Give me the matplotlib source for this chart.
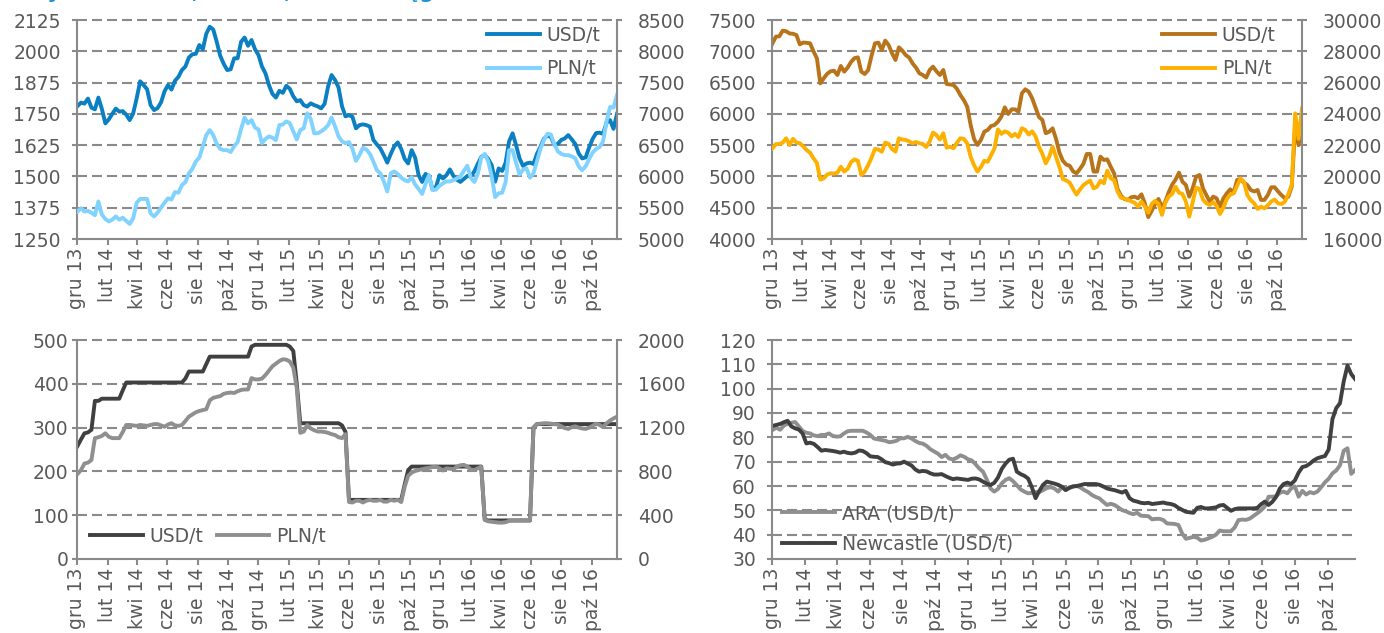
import matplotlib
matplotlib.use("Agg")
import matplotlib.pyplot as plt
import matplotlib.dates as mdates
import pandas as pd

plt.rcParams["font.family"] = ["DejaVu Sans"]
plt.rcParams["lines.scale_dashes"] = False

# ---------------------------------------------------------------- data
weeks = pd.date_range("2013-12-02", periods=156, freq="7D")
month_ticks = pd.date_range("2013-12-01", "2016-10-01", freq="2MS")
month_labels = ["gru 13", "lut 14", "kwi 14", "cze 14", "sie 14", "paź 14",
                "gru 14", "lut 15", "kwi 15", "cze 15", "sie 15", "paź 15",
                "gru 15", "lut 16", "kwi 16", "cze 16", "sie 16", "paź 16"]

# aluminium
alu_usd = [1781, 1795, 1791, 1811, 1775, 1768, 1815, 1770, 1712, 1728,
           1750, 1771, 1759, 1761, 1747, 1725, 1752, 1812, 1880, 1865,
           1848, 1785, 1765, 1773, 1796, 1840, 1865, 1847, 1882, 1898,
           1925, 1939, 1975, 1988, 1990, 2025, 2008, 2070, 2098, 2087,
           2038, 1982, 1950, 1925, 1928, 1972, 1972, 2038, 2055, 2022,
           2045, 2008, 1985, 1939, 1912, 1865, 1830, 1815, 1842, 1834,
           1862, 1850, 1820, 1800, 1805, 1785, 1779, 1792, 1785, 1780,
           1772, 1790, 1860, 1905, 1885, 1855, 1780, 1740, 1745, 1738,
           1692, 1705, 1708, 1705, 1699, 1646, 1628, 1612, 1585, 1555,
           1590, 1620, 1636, 1610, 1570, 1552, 1605, 1575, 1505, 1478,
           1510, 1500, 1448, 1458, 1505, 1492, 1505, 1528, 1502, 1487,
           1478, 1490, 1502, 1500, 1520, 1550, 1578, 1586, 1570, 1545,
           1479, 1532, 1522, 1555, 1640, 1672, 1625, 1572, 1542, 1552,
           1555, 1550, 1590, 1618, 1650, 1663, 1658, 1626, 1630, 1646,
           1652, 1665, 1648, 1630, 1592, 1572, 1576, 1616, 1650, 1673,
           1675, 1670, 1715, 1725, 1690, 1750]
alu_pln = [5440, 5490, 5440, 5450, 5420, 5380, 5600, 5390, 5320, 5280,
           5310, 5360, 5310, 5340, 5290, 5240, 5330, 5580, 5640, 5640,
           5640, 5410, 5360, 5420, 5500, 5580, 5650, 5630, 5750, 5740,
           5860, 5910, 6050, 6120, 6240, 6300, 6480, 6660, 6740, 6660,
           6520, 6440, 6420, 6420, 6390, 6480, 6550, 6760, 6940, 6850,
           6900, 6780, 6750, 6530, 6600, 6640, 6620, 6580, 6820, 6830,
           6880, 6850, 6720, 6590, 6740, 6770, 7010, 6920, 6690, 6690,
           6720, 6760, 6820, 6940, 6800, 6640, 6560, 6530, 6550, 6440,
           6250, 6340, 6460, 6430, 6360, 6240, 6100, 6050, 5920, 5760,
           6050, 6080, 6040, 5980, 5940, 5920, 5990, 5870, 5800, 5720,
           5880, 6020, 5780, 5790, 5850, 5890, 5920, 5920, 5940, 5970,
           6000, 6090, 6170, 5980, 5910, 6040, 6300, 6360, 6240, 6000,
           5670, 5730, 5740, 5910, 6420, 6420, 6220, 6030, 6110, 6130,
           5980, 6050, 6240, 6440, 6580, 6680, 6670, 6520, 6400, 6360,
           6340, 6340, 6320, 6290, 6160, 6100, 6160, 6280, 6380, 6440,
           6470, 6560, 6880, 7110, 7100, 7300]

# copper
cu_usd = [7127, 7234, 7240, 7330, 7320, 7285, 7280, 7260, 7110, 7140,
          7135, 7127, 7000, 6887, 6488, 6568, 6640, 6680, 6690, 6621,
          6765, 6674, 6740, 6830, 6890, 6903, 6674, 6637, 6700, 6930,
          7127, 7138, 7021, 7170, 7100, 6967, 6861, 7063, 7010, 6940,
          6900, 6807, 6740, 6648, 6621, 6580, 6700, 6754, 6680, 6621,
          6701, 6477, 6470, 6461, 6400, 6300, 6220, 6115, 5822, 5600,
          5502, 5582, 5715, 5742, 5806, 5822, 5875, 5955, 6104, 5998,
          6072, 6072, 6035, 6328, 6392, 6355, 6250, 6100, 5950, 5902,
          5690, 5715, 5769, 5600, 5380, 5250, 5190, 5170, 5080, 5050,
          5120, 5200, 5359, 5359, 5077, 5077, 5316, 5263, 5273, 5156,
          5050, 4800, 4690, 4640, 4624, 4666, 4677, 4650, 4714, 4570,
          4350, 4450, 4560, 4640, 4500, 4600, 4750, 4870, 4950, 5060,
          4916, 4863, 4677, 4810, 4997, 5023, 4810, 4703, 4597, 4677,
          4650, 4517, 4650, 4730, 4794, 4741, 4943, 4959, 4900, 4863,
          4783, 4760, 4783, 4624, 4624, 4703, 4826, 4826, 4760, 4700,
          4650, 4677, 4836, 5795, 5500, 5848]
cu_pln = [21800, 22070, 22070, 22160, 22440, 22010, 22400, 22160, 22120, 21920,
          21690, 21520, 21160, 20860, 19800, 19880, 20120, 20200, 20180, 20240,
          20620, 20310, 20480, 20920, 21090, 21000, 20090, 20310, 20720, 21200,
          21760, 21720, 21580, 22160, 22080, 21760, 21580, 22440, 22360, 22330,
          22240, 22120, 22200, 22120, 22070, 21880, 22240, 22800, 22640, 22360,
          22760, 21840, 21900, 21800, 22160, 22440, 22400, 22120, 21260, 20720,
          20310, 20600, 21000, 20940, 21360, 21800, 23000, 22720, 22880, 22800,
          22560, 22720, 22520, 23080, 22970, 22680, 22880, 22560, 21900, 21440,
          20840, 21260, 21900, 21240, 20600, 19840, 19740, 19600, 19200, 18840,
          19160, 19440, 19600, 19730, 19240, 19340, 19720, 19560, 20370, 19880,
          19770, 19040, 18640, 18580, 18520, 18400, 18320, 18070, 18390, 18070,
          17680, 18240, 18440, 18240, 17540, 18320, 18720, 18880, 19340, 18960,
          18880, 18400, 17430, 18360, 19280, 19200, 18520, 18280, 18180, 18360,
          18120, 17600, 18000, 18560, 18840, 18920, 19400, 19880, 19660, 18810,
          18480, 18280, 17920, 18070, 17960, 18160, 18400, 18520, 18280, 18240,
          18390, 18880, 19440, 24030, 22400, 24350]

# sulphur
sul_usd = [258, 273, 287, 289, 295, 361, 361, 366, 366, 366,
           366, 366, 366, 385, 403, 403, 403, 403, 403, 403,
           403, 403, 403, 403, 403, 403, 403, 403, 403, 403,
           403, 412, 428, 428, 428, 428, 428, 445, 462, 462,
           462, 462, 462, 462, 462, 462, 462, 462, 462, 462,
           485, 489, 489, 489, 489, 489, 489, 489, 489, 489,
           489, 485, 475, 400, 310, 310, 310, 310, 310, 310,
           310, 310, 310, 310, 310, 310, 305, 290, 135, 135,
           135, 135, 135, 135, 135, 135, 135, 135, 135, 135,
           135, 135, 135, 135, 170, 203, 211, 211, 211, 211,
           211, 211, 211, 211, 211, 211, 211, 211, 211, 211,
           211, 211, 211, 211, 211, 211, 211, 90, 88, 88,
           88, 88, 88, 88, 88, 88, 88, 88, 88, 88,
           88, 300, 308, 308, 308, 308, 308, 308, 308, 308,
           308, 308, 308, 308, 308, 308, 308, 308, 308, 308,
           308, 308, 308, 308, 308, 308]
sul_pln = [776, 812, 872, 880, 904, 1104, 1112, 1124, 1148, 1116,
           1104, 1104, 1104, 1160, 1224, 1224, 1220, 1216, 1224, 1220,
           1216, 1224, 1232, 1232, 1220, 1208, 1228, 1240, 1220, 1216,
           1224, 1260, 1300, 1320, 1340, 1352, 1360, 1368, 1448, 1472,
           1480, 1488, 1508, 1516, 1520, 1516, 1532, 1544, 1548, 1548,
           1652, 1640, 1640, 1648, 1680, 1720, 1760, 1784, 1808, 1824,
           1820, 1804, 1748, 1560, 1152, 1164, 1224, 1192, 1176, 1164,
           1164, 1160, 1152, 1140, 1132, 1112, 1104, 1140, 520, 516,
           532, 532, 516, 532, 540, 532, 532, 540, 524, 524,
           540, 532, 540, 520, 660, 760, 788, 804, 812, 820,
           828, 832, 840, 844, 828, 808, 828, 824, 820, 844,
           856, 860, 844, 816, 812, 828, 844, 356, 344, 340,
           336, 332, 332, 336, 348, 352, 352, 352, 352, 352,
           352, 1200, 1232, 1236, 1240, 1240, 1236, 1232, 1228, 1212,
           1196, 1188, 1204, 1212, 1200, 1192, 1188, 1200, 1216, 1236,
           1224, 1204, 1240, 1264, 1284, 1300]

# coal
coal_ara = [83.0, 84.0, 83.1, 84.8, 85.6, 86.0, 86.3, 84.5, 82.6, 81.9,
            81.6, 80.8, 80.5, 81.0, 81.0, 81.6, 80.6, 80.3, 80.4, 81.6,
            82.5, 82.7, 82.7, 82.7, 82.7, 82.0, 81.0, 79.5, 79.2, 78.9,
            78.6, 78.0, 78.2, 78.6, 79.6, 79.6, 80.2, 79.5, 78.5, 77.7,
            77.4, 76.5, 75.1, 74.2, 73.3, 71.9, 72.8, 71.3, 70.9, 71.6,
            72.6, 72.0, 71.0, 70.5, 69.0, 67.2, 65.9, 62.7, 59.0, 57.7,
            58.8, 61.1, 62.5, 63.2, 62.0, 60.3, 58.6, 57.7, 57.0, 57.2,
            57.5, 57.5, 58.3, 59.2, 59.5, 59.0, 57.7, 59.6, 58.5, 59.5,
            59.9, 60.0, 59.3, 58.3, 57.5, 56.3, 55.5, 54.9, 53.5, 52.2,
            52.7, 52.2, 51.2, 50.1, 49.6, 48.9, 48.4, 49.0, 47.8, 47.7,
            47.6, 46.3, 46.5, 46.5, 46.0, 44.6, 44.5, 44.4, 44.0, 40.5,
            38.3, 38.7, 39.1, 38.8, 37.6, 37.9, 38.5, 39.1, 40.0, 41.7,
            41.4, 41.4, 41.4, 43.0, 46.0, 46.2, 46.1, 46.6, 47.7, 48.8,
            50.0, 51.6, 55.6, 55.6, 55.8, 57.2, 57.7, 57.0, 59.0, 59.8,
            55.6, 58.0, 56.5, 57.5, 57.0, 57.7, 59.5, 61.5, 63.0, 65.2,
            66.4, 68.5, 74.5, 75.5, 65.0, 66.5]
coal_newcastle = [84.7, 85.1, 85.5, 86.2, 86.8, 84.5, 83.7, 83.2, 81.6, 77.5,
                  77.8, 77.3, 76.0, 74.5, 74.8, 74.6, 74.4, 74.1, 73.7, 74.1,
                  73.6, 73.4, 73.7, 74.6, 74.4, 73.5, 72.2, 72.0, 71.9, 71.0,
                  69.8, 69.4, 68.8, 69.2, 69.3, 70.0, 69.2, 68.4, 66.8, 65.9,
                  66.2, 66.0, 65.2, 64.7, 64.7, 64.9, 64.1, 63.4, 62.8, 63.1,
                  62.9, 62.7, 62.5, 63.0, 63.1, 62.7, 61.8, 61.0, 60.4, 61.3,
                  63.5, 67.0, 69.2, 70.8, 71.2, 65.9, 64.9, 64.2, 63.1, 59.5,
                  55.0, 58.0, 60.5, 61.8, 61.4, 61.0, 60.5, 59.7, 58.3, 59.2,
                  59.8, 60.0, 60.4, 60.8, 60.8, 60.8, 60.8, 60.5, 59.8, 59.0,
                  58.6, 58.3, 57.8, 57.3, 58.0, 55.0, 54.0, 53.6, 53.1, 52.9,
                  53.1, 52.6, 52.8, 53.0, 53.2, 52.8, 52.6, 52.1, 51.0, 50.2,
                  49.4, 49.2, 49.0, 51.0, 51.4, 50.8, 50.8, 51.0, 51.2, 52.0,
                  52.2, 51.0, 49.8, 50.5, 50.8, 50.8, 50.8, 50.8, 50.8, 51.0,
                  52.5, 53.6, 52.2, 53.5, 55.5, 59.0, 60.8, 61.4, 60.8, 62.3,
                  65.5, 67.8, 68.2, 69.2, 70.5, 71.4, 71.9, 72.3, 75.0, 87.5,
                  92.0, 94.0, 103.0, 109.5, 106.0, 104.0]

# ---------------------------------------------------------------- styling
W, H = 1384, 633
GRID = "#8a8a8a"
TEXT = "#595959"
FS = 13.5
LW = 2.8
DASH = (0, (7.2, 3.6))

x = mdates.date2num(weeks.to_pydatetime())
xt = mdates.date2num(month_ticks.to_pydatetime())
x_start = mdates.date2num(pd.Timestamp("2013-12-01").to_pydatetime())
x_end = x[-1]


def box(left, top, right, bottom):
    return [left / W, 1 - bottom / H, (right - left) / W, (bottom - top) / H]


def style_main(ax, lo, hi, step, ypad):
    ticks = list(range(lo, hi + 1, step))
    ax.set_xlim(x_start, x_end)
    ax.set_ylim(lo, hi)
    ax.set_yticks(ticks)
    ax.set_yticklabels([str(t) for t in ticks])
    for v in ticks[1:]:
        ax.axhline(v, color=GRID, lw=1.5, ls=DASH, zorder=0.5, clip_on=False)
    ax.spines["top"].set_visible(False)
    ax.spines["right"].set_visible(False)
    for s in ("left", "bottom"):
        ax.spines[s].set_color(GRID)
        ax.spines[s].set_linewidth(1.5)
    ax.tick_params(axis="y", direction="out", length=3.6, width=1.5,
                   color=GRID, labelsize=FS, labelcolor=TEXT, pad=ypad)
    ax.set_xticks(xt)
    ax.set_xticklabels(month_labels, rotation=90)
    ax.tick_params(axis="x", direction="out", length=4.5, width=1.5,
                   color=GRID, labelsize=FS, labelcolor=TEXT, pad=2)
    ax.patch.set_visible(False)


def style_twin(ax, lo, hi, step):
    t = ax.twinx()
    ticks = list(range(lo, hi + 1, step))
    t.set_ylim(lo, hi)
    t.set_yticks(ticks)
    t.set_yticklabels([str(v) for v in ticks])
    for s in ("left", "top", "bottom"):
        t.spines[s].set_visible(False)
    t.spines["right"].set_color(GRID)
    t.spines["right"].set_linewidth(1.5)
    t.tick_params(axis="y", direction="out", length=3.6, width=1.5,
                  color=GRID, labelsize=FS, labelcolor=TEXT, pad=11.5)
    return t


def legend(handles, labels, x0, y0, ncol=1, spacing=0.75):
    fig.legend(handles, labels, loc="upper left",
               bbox_to_anchor=(x0 / W, 1 - y0 / H), ncol=ncol,
               frameon=False, fontsize=FS, labelcolor=TEXT,
               handlelength=2.8, handletextpad=0.38, labelspacing=spacing,
               columnspacing=0.7, borderpad=0, borderaxespad=0)


fig = plt.figure(figsize=(W / 100, H / 100), dpi=100)

fig.text(3 / W, 1 + 1.5 / H, "Ceny aluminium, miedzi, siarki i węgla",
         color="#1a94d6", fontsize=15, fontweight="bold",
         ha="left", va="baseline")

# aluminium panel
ax1 = fig.add_axes(box(77, 20, 617, 239))
style_main(ax1, 1250, 2125, 125, 8)
t1 = style_twin(ax1, 5000, 8500, 500)
h1, = ax1.plot(x, alu_usd, color="#0a80c2", lw=LW, solid_joinstyle="round")
h2, = t1.plot(x, alu_pln, color="#80d2ff", lw=LW, solid_joinstyle="round")
legend([h1, h2], ["USD/t", "PLN/t"], 487, 26)

# copper panel
ax2 = fig.add_axes(box(772, 20, 1302, 239))
style_main(ax2, 4000, 7500, 500, 8)
t2 = style_twin(ax2, 16000, 30000, 2000)
h3, = ax2.plot(x, cu_usd, color="#b8741a", lw=LW, solid_joinstyle="round")
h4, = t2.plot(x, cu_pln, color="#fdb000", lw=LW, solid_joinstyle="round")
legend([h3, h4], ["USD/t", "PLN/t"], 1162, 26)

# sulphur panel
ax3 = fig.add_axes(box(77, 340, 617, 559))
style_main(ax3, 0, 500, 100, 2.5)
t3 = style_twin(ax3, 0, 2000, 400)
h5, = ax3.plot(x, sul_usd, color="#404040", lw=LW, solid_joinstyle="round")
h6, = t3.plot(x, sul_pln, color="#8f8f8f", lw=LW, solid_joinstyle="round")
legend([h5, h6], ["USD/t", "PLN/t"], 90, 527, ncol=2)

# coal panel
ax4 = fig.add_axes(box(772, 340, 1355, 559))
style_main(ax4, 30, 120, 10, 8)
h7, = ax4.plot(x, coal_ara, color="#8f8f8f", lw=LW, solid_joinstyle="round")
h8, = ax4.plot(x, coal_newcastle, color="#404040", lw=LW, solid_joinstyle="round")
legend([h7, h8], ["ARA (USD/t)", "Newcastle (USD/t)"], 782, 504, spacing=0.6)

fig.savefig("out.png", dpi=100)
